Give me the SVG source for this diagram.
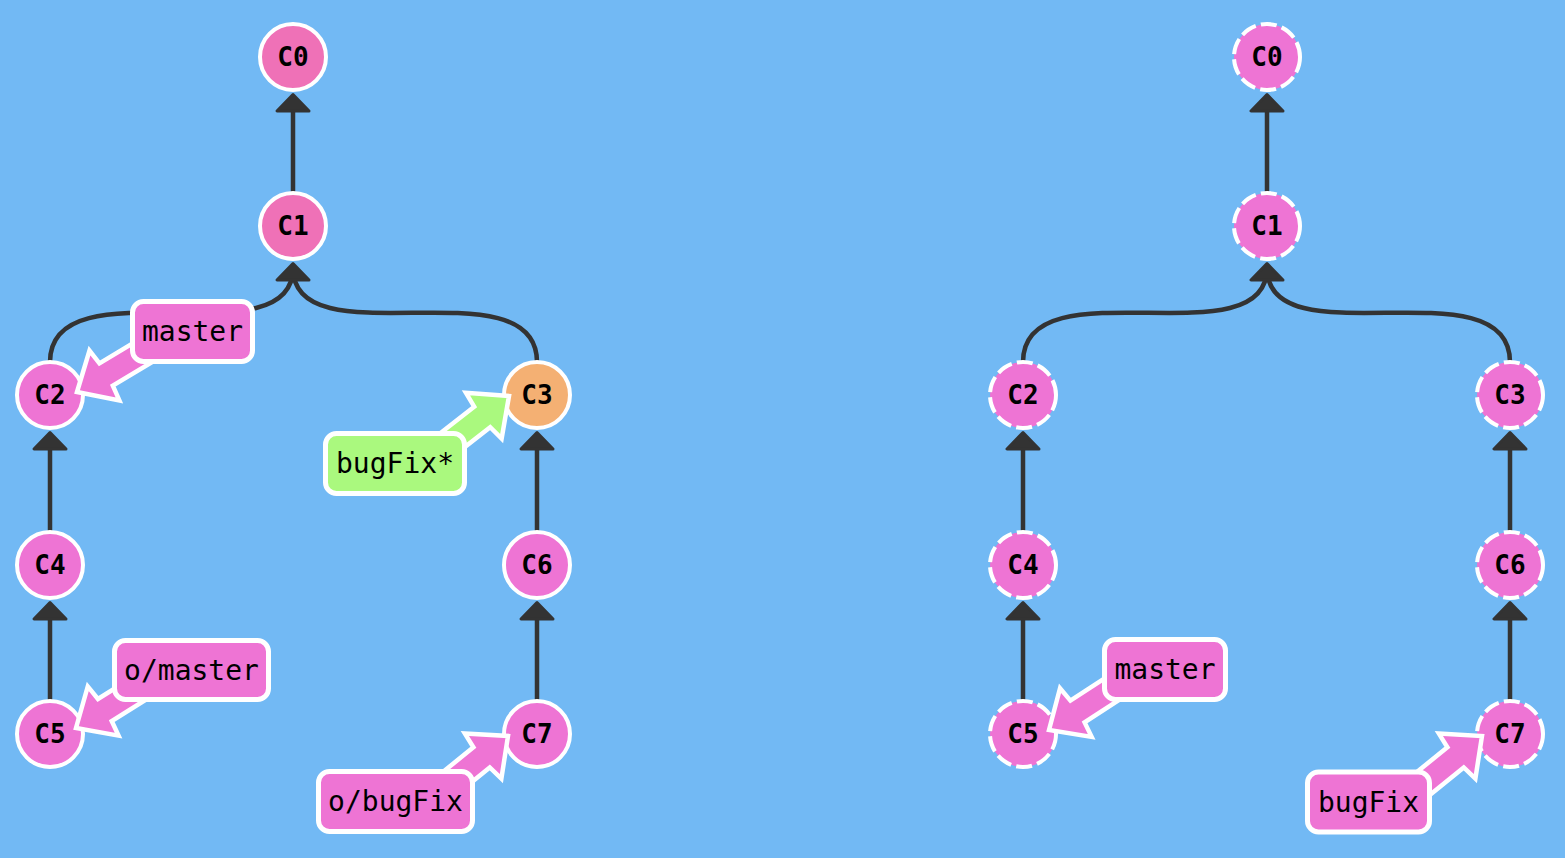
<svg xmlns="http://www.w3.org/2000/svg" width="1565" height="858" viewBox="0 0 1565 858">
<defs>
<style>
.bg{fill:#72b9f4}
.edge{fill:none;stroke:#333;stroke-width:4.5}
.head{fill:#333;stroke:#333;stroke-width:3;stroke-linejoin:round}
.node{fill:#ee74d4;stroke:#fff;stroke-width:4}
.node.hot{fill:#ef71b7}
.node.cur{fill:#f4b073}
.node.dash{stroke-dasharray:16 5.3}
.nlabel{font-family:"DejaVu Sans Mono","Liberation Mono",monospace;font-size:26px;font-weight:bold;fill:#000;text-anchor:middle}
.blabel{font-family:"DejaVu Sans Mono","Liberation Mono",monospace;font-size:28px;fill:#000;text-anchor:middle}
.bbox{fill:#ee74d4;stroke:#fff;stroke-width:5}
.barrow{fill:#ee74d4;stroke:#fff;stroke-width:4.5;stroke-linejoin:miter}
.green{fill:#aaf97e}
</style>
<path id="arr" d="M0,0 L32,-29 L34,-13 L100,-13 L100,13 L34,13 L32,29 Z"/>
</defs>
<rect class="bg" x="0" y="0" width="1565" height="858"/>

<g id="connectors">
  <!-- left graph -->
  <path class="edge" d="M293,193 L293,100"/>
  <polygon class="head" points="293,94.5 277,111 309,111"/>
  <path class="edge" d="M50,362 C50,262 293,362 293,268"/>
  <path class="edge" d="M537,362 C537,262 293,362 293,268"/>
  <polygon class="head" points="293,263.5 277,280 309,280"/>
  <path class="edge" d="M50,532 L50,440"/>
  <polygon class="head" points="50,432.5 34,449 66,449"/>
  <path class="edge" d="M50,701 L50,610"/>
  <polygon class="head" points="50,602.5 34,619 66,619"/>
  <path class="edge" d="M537,532 L537,440"/>
  <polygon class="head" points="537,432.5 521,449 553,449"/>
  <path class="edge" d="M537,701 L537,610"/>
  <polygon class="head" points="537,602.5 521,619 553,619"/>
  <!-- right graph -->
  <path class="edge" d="M1267,193 L1267,100"/>
  <polygon class="head" points="1267,94.5 1251,111 1283,111"/>
  <path class="edge" d="M1023,362 C1023,262 1267,362 1267,268"/>
  <path class="edge" d="M1510,362 C1510,262 1267,362 1267,268"/>
  <polygon class="head" points="1267,263.5 1251,280 1283,280"/>
  <path class="edge" d="M1023,532 L1023,440"/>
  <polygon class="head" points="1023,432.5 1007,449 1039,449"/>
  <path class="edge" d="M1023,701 L1023,610"/>
  <polygon class="head" points="1023,602.5 1007,619 1039,619"/>
  <path class="edge" d="M1510,532 L1510,440"/>
  <polygon class="head" points="1510,432.5 1494,449 1526,449"/>
  <path class="edge" d="M1510,701 L1510,610"/>
  <polygon class="head" points="1510,602.5 1494,619 1526,619"/>
</g>

<!-- left nodes -->
<g id="L-C0"><circle class="node hot" cx="293" cy="57" r="33"/><text class="nlabel" x="293" y="66">C0</text></g>
<g id="L-C1"><circle class="node hot" cx="293" cy="226" r="33"/><text class="nlabel" x="293" y="235">C1</text></g>
<g id="L-C2"><circle class="node" cx="50" cy="395" r="33"/><text class="nlabel" x="50" y="404">C2</text></g>
<g id="L-C3"><circle class="node cur" cx="537" cy="395" r="33"/><text class="nlabel" x="537" y="404">C3</text></g>
<g id="L-C4"><circle class="node" cx="50" cy="565" r="33"/><text class="nlabel" x="50" y="574">C4</text></g>
<g id="L-C5"><circle class="node" cx="50" cy="734" r="33"/><text class="nlabel" x="50" y="743">C5</text></g>
<g id="L-C6"><circle class="node" cx="537" cy="565" r="33"/><text class="nlabel" x="537" y="574">C6</text></g>
<g id="L-C7"><circle class="node" cx="537" cy="734" r="33"/><text class="nlabel" x="537" y="743">C7</text></g>

<!-- right nodes -->
<g id="R-C0"><circle class="node dash" cx="1267" cy="57" r="33"/><text class="nlabel" x="1267" y="66">C0</text></g>
<g id="R-C1"><circle class="node dash" cx="1267" cy="226" r="33"/><text class="nlabel" x="1267" y="235">C1</text></g>
<g id="R-C2"><circle class="node dash" cx="1023" cy="395" r="33"/><text class="nlabel" x="1023" y="404">C2</text></g>
<g id="R-C3"><circle class="node dash" cx="1510" cy="395" r="33"/><text class="nlabel" x="1510" y="404">C3</text></g>
<g id="R-C4"><circle class="node dash" cx="1023" cy="565" r="33"/><text class="nlabel" x="1023" y="574">C4</text></g>
<g id="R-C5"><circle class="node dash" cx="1023" cy="734" r="33"/><text class="nlabel" x="1023" y="743">C5</text></g>
<g id="R-C6"><circle class="node dash" cx="1510" cy="565" r="33"/><text class="nlabel" x="1510" y="574">C6</text></g>
<g id="R-C7"><circle class="node dash" cx="1510" cy="734" r="33"/><text class="nlabel" x="1510" y="743">C7</text></g>

<!-- branch labels -->
<g id="L-master">
  <use href="#arr" class="barrow" transform="translate(77,392) rotate(-31)"/>
  <rect class="bbox" x="132.5" y="301.5" width="120" height="60" rx="11"/>
  <text class="blabel" x="192.5" y="341">master</text>
</g>
<g id="L-bugFix">
  <use href="#arr" class="barrow green" transform="translate(509,396) rotate(142)"/>
  <rect class="bbox green" x="325.5" y="433.5" width="139" height="60" rx="11"/>
  <text class="blabel" x="395" y="473">bugFix*</text>
</g>
<g id="L-o-master">
  <use href="#arr" class="barrow" transform="translate(76,728) rotate(-32)"/>
  <rect class="bbox" x="114.5" y="640.5" width="154" height="59" rx="11"/>
  <text class="blabel" x="191.5" y="679.5">o/master</text>
</g>
<g id="L-o-bugFix">
  <use href="#arr" class="barrow" transform="translate(508,736) rotate(141)"/>
  <rect class="bbox" x="318.5" y="771.5" width="154" height="60" rx="11"/>
  <text class="blabel" x="395.5" y="811">o/bugFix</text>
</g>
<g id="R-master">
  <use href="#arr" class="barrow" transform="translate(1049,730) rotate(-33)"/>
  <rect class="bbox" x="1104.5" y="639.5" width="121" height="60" rx="11"/>
  <text class="blabel" x="1165" y="679">master</text>
</g>
<g id="R-bugFix">
  <use href="#arr" class="barrow" transform="translate(1482,736) rotate(141)"/>
  <rect class="bbox" x="1307.5" y="772" width="122" height="60" rx="11"/>
  <text class="blabel" x="1368.5" y="811.5">bugFix</text>
</g>
</svg>
